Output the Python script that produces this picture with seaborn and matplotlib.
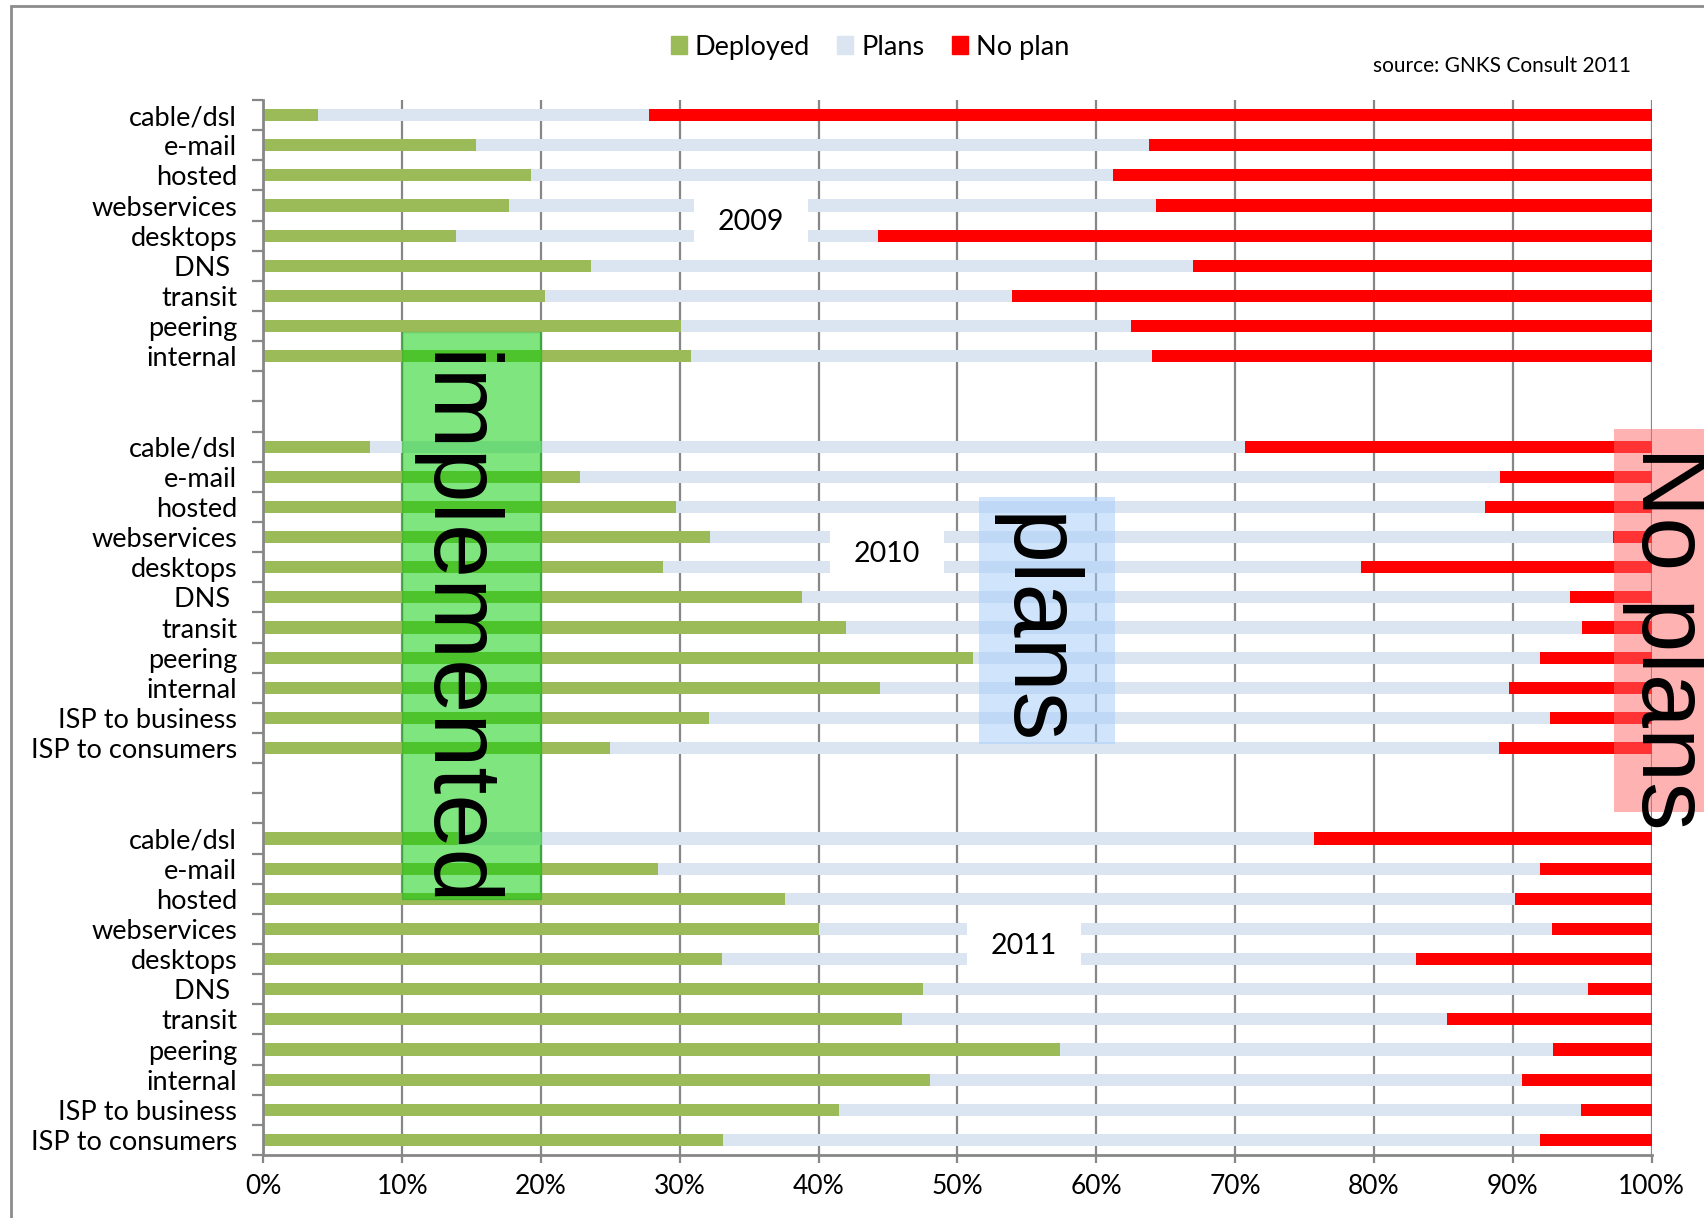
"""
Service deployment survey 2009-2011 (source: GNKS Consult 2011)
Stacked horizontal bars: Deployed / Plans / No plan, one block per year
"""

import pandas as pd
import matplotlib.pyplot as plt
from matplotlib.patches import Patch, Rectangle
import seaborn as sns

DEPLOYED_COLOR = "#9BBB59"
PLANS_COLOR    = "#DBE5F1"
NOPLAN_COLOR   = "#FF0000"
GRID_COLOR     = "#878787"

# ── Data (percent of respondents) ────────────────────────────────────────────
services_2009 = ["cable/dsl", "e-mail", "hosted", "webservices", "desktops",
                 "DNS ", "transit", "peering", "internal"]
services_isp  = services_2009 + ["ISP to business", "ISP to consumers"]
years         = ["2009", "2010", "2011"]

deployed_2009 = [3.9, 15.3, 19.3, 17.7, 13.9, 23.6, 20.3, 30.1, 30.8]
plans_2009    = [23.9, 48.5, 41.9, 46.6, 30.4, 43.4, 33.6, 32.4, 33.2]
noplan_2009   = [72.2, 36.2, 38.8, 35.7, 55.7, 33.0, 46.1, 37.5, 36.0]

deployed_2010 = [7.7, 22.8, 29.7, 32.2, 28.8, 38.8, 42.0, 51.1, 44.4, 32.1, 25.0]
plans_2010    = [63.0, 66.3, 58.3, 65.0, 50.3, 55.3, 53.0, 40.9, 45.3, 60.6, 64.0]
noplan_2010   = [29.3, 10.9, 12.0, 2.8, 20.9, 5.9, 5.0, 8.0, 10.3, 7.3, 11.0]

deployed_2011 = [14.0, 28.4, 37.6, 40.0, 33.0, 47.5, 46.0, 57.4, 48.0, 41.5, 33.1]
plans_2011    = [61.7, 63.6, 52.6, 52.8, 50.0, 47.9, 39.3, 35.5, 42.7, 53.4, 58.9]
noplan_2011   = [24.3, 8.0, 9.8, 7.2, 17.0, 4.6, 14.7, 7.1, 9.3, 5.1, 8.0]

blocks = [
    ("2009", services_2009, deployed_2009, plans_2009, noplan_2009),
    ("2010", services_isp, deployed_2010, plans_2010, noplan_2010),
    ("2011", services_isp, deployed_2011, plans_2011, noplan_2011),
]
GAP_ROWS = 2

# ── Build long table with row positions (blank rows between years) ──────────
rows, tick_labels, block_starts = [], [], []
pos = 0
for year, labels, dep, pla, nop in blocks:
    block_starts.append(pos)
    for lab, d, p, n in zip(labels, dep, pla, nop):
        rows.append({"year": year, "service": lab, "pos": pos,
                     "deployed": d, "plans": p, "noplan": n})
        tick_labels.append(lab)
        pos += 1
    if year != years[-1]:
        tick_labels += [""] * GAP_ROWS
        pos += GAP_ROWS
n_rows = pos

df = pd.DataFrame(rows)
df["plans_end"] = df["deployed"] + df["plans"]
df["total"] = df["plans_end"] + df["noplan"]

# ── Style ────────────────────────────────────────────────────────────────────
sns.set_theme(style="white")
plt.rcParams["font.family"] = ["Lato", "DejaVu Sans"]
plt.rcParams.update({
    "text.color":        "black",
    "xtick.labelcolor":  "black",
    "ytick.labelcolor":  "black",
})

fig = plt.figure(figsize=(17.04, 12.18), dpi=100)
ax = fig.add_axes([0.1546, 0.0517, 0.8146, 0.8662])

# layered bars -> stacked look
for col, color in [("total", NOPLAN_COLOR), ("plans_end", PLANS_COLOR),
                   ("deployed", DEPLOYED_COLOR)]:
    sns.barplot(data=df, x=col, y="pos", orient="y", native_scale=True,
                color=color, saturation=1, width=0.4, errorbar=None,
                linewidth=0, ax=ax, zorder=2)

ax.set_xlim(0, 100)
ax.set_ylim(n_rows - 0.5, -0.5)
ax.set_xlabel("")
ax.set_ylabel("")

ax.set_yticks(range(n_rows))
ax.set_yticklabels(tick_labels, fontsize=19.5, color="black")
ax.set_yticks([i - 0.5 for i in range(n_rows + 1)], minor=True)
ax.tick_params(axis="y", which="major", left=True, length=0, pad=19)
ax.tick_params(axis="y", which="minor", left=True, length=8, width=1.6,
               color=GRID_COLOR, direction="out")

ax.set_xticks(range(0, 101, 10))
ax.set_xticklabels([f"{v}%" for v in range(0, 101, 10)], fontsize=19,
                   color="black")
ax.tick_params(axis="x", bottom=True, length=6, width=1.6, color=GRID_COLOR,
               direction="out", pad=8)

ax.grid(axis="x", color=GRID_COLOR, linewidth=1.6)
ax.grid(axis="y", visible=False)
ax.set_axisbelow(True)
for side in ["top", "right"]:
    ax.spines[side].set_visible(False)
for side in ["left", "bottom"]:
    ax.spines[side].set_color(GRID_COLOR)
    ax.spines[side].set_linewidth(2)

# ── Year labels in white boxes over the bars ────────────────────────────────
year_box_left = [31.0, 40.8, 50.7]
for year, start, left in zip(years, block_starts, year_box_left):
    ax.add_patch(Rectangle((left, start + 2.6), 8.2, 1.85,
                           facecolor="white", edgecolor="none", zorder=3))
    ax.text(left + 4.1, start + 3.55, year, ha="center", va="center",
            fontsize=20.5, color="black", zorder=4)

# ── Highlight boxes ─────────────────────────────────────────────────────────
ax.add_patch(Rectangle((10, 7.2), 10, 18.8, facecolor="#00CC00", alpha=0.5,
                       edgecolor="#22AA22", linewidth=1, zorder=5))
ax.text(13.6, 17.1, "implemented", rotation=270, ha="center", va="center",
        fontsize=70, family="Liberation Sans", color="black", zorder=6)

ax.add_patch(Rectangle((51.55, 12.67), 9.8, 8.2, facecolor="#A3CDF9",
                       alpha=0.5, edgecolor="none", zorder=5))
ax.text(55.4, 17.1, "plans", rotation=270, ha="center", va="center",
        fontsize=70, family="Liberation Sans", color="black", zorder=6)

ax.add_patch(Rectangle((97.3, 10.42), 9.0, 12.7, facecolor="#FF6666",
                       alpha=0.5, edgecolor="none", zorder=5, clip_on=False))
ax.text(101.1, 17.35, "No plans", rotation=270, ha="center", va="center",
        fontsize=70, family="Liberation Sans", color="black", zorder=6,
        clip_on=False)

# ── Legend, source, chart border ────────────────────────────────────────────
handles = [Patch(color=DEPLOYED_COLOR, label="Deployed"),
           Patch(color=PLANS_COLOR, label="Plans"),
           Patch(color=NOPLAN_COLOR, label="No plan")]
fig.legend(handles=handles, loc="center", bbox_to_anchor=(0.5106, 0.9614),
           ncol=3, frameon=False, fontsize=19.5, handlelength=0.6,
           handleheight=0.6, handletextpad=0.3, columnspacing=1.0,
           labelcolor="black")

fig.text(0.9572, 0.9458, "source: GNKS Consult 2011", ha="right",
         va="center", fontsize=15, color="black")

fig.add_artist(Rectangle((11 / 1704, -0.1), 1.2, 1.1 - 6 / 1218,
                         transform=fig.transFigure, fill=False,
                         edgecolor="#8C8C8C", linewidth=2))

fig.savefig("out.png", dpi=100)
